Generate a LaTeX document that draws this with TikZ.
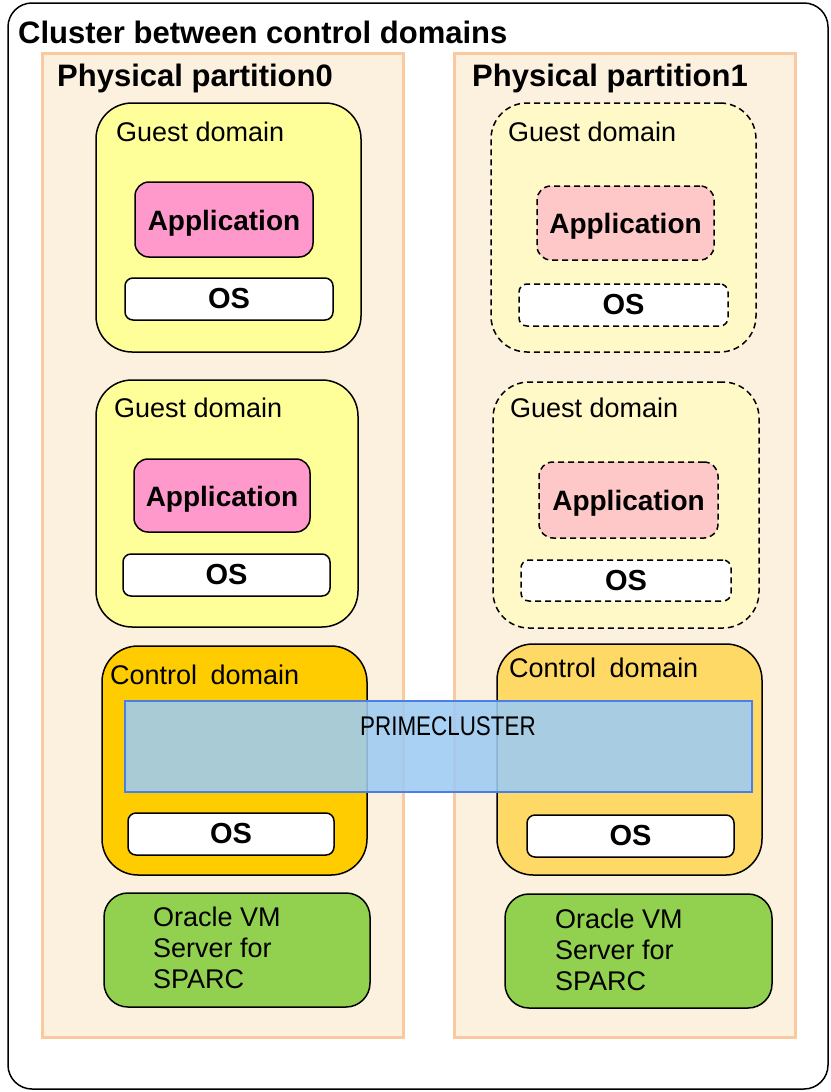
\documentclass[tikz,border=0pt]{standalone}
\usepackage{fontspec}
\setmainfont{Liberation Sans}
\newfontfamily\narrowfont[FakeStretch=0.83]{Liberation Sans}
\usetikzlibrary{fit}
\definecolor{partfill}{HTML}{FCF1DE}
\definecolor{partedge}{HTML}{FBC9A0}
\definecolor{guestA}{HTML}{FFFF99}
\definecolor{guestB}{HTML}{FFF9C8}
\definecolor{appA}{HTML}{FF99CC}
\definecolor{appB}{HTML}{FFC8C8}
\definecolor{ctrlA}{HTML}{FFCC00}
\definecolor{ctrlB}{HTML}{FFD966}
\definecolor{vmgreen}{HTML}{92D050}
\definecolor{pcfill}{RGB}{157,203,243}
\definecolor{pcedge}{HTML}{4A7FE6}
\newcommand{\fs}[1]{\fontsize{#1}{#1}\selectfont}
\tikzset{
  region/.style={inner sep=0pt, outer sep=0pt},
  part/.style={region, draw=partedge, fill=partfill, line width=3pt},
  guest/.style={region, draw=black, line width=1.5pt, rounded corners=36pt},
  app/.style={region, draw=black, line width=1.5pt, rounded corners=14pt},
  osbox/.style={region, draw=black, fill=white, line width=1.5pt, rounded corners=8pt},
  ghost/.style={dash pattern=on 6pt off 4pt},
  vmbox/.style={region, draw=black, fill=vmgreen, line width=1.5pt, rounded corners=24pt},
  lbl/.style={inner sep=0pt, anchor=base west},
  apptext/.style={inner sep=0pt, anchor=base, font=\fs{28}\bfseries},
  ostext/.style={inner sep=0pt, font=\fs{29}\bfseries},
  domtext/.style={lbl, font=\fs{27}},
  vmtext/.style={lbl, font=\fs{27}}
}
\begin{document}
\begin{tikzpicture}[x=1pt,y=-1pt]
\useasboundingbox (0,0) rectangle (830,1092);
\fill[white] (0,0) rectangle (830,1092);
% outer cluster box
\node[region, draw=black, line width=1.5pt, rounded corners=24pt, fit={(8,3) (828,1089)}] (outer) {};
\node[lbl, font=\fs{31}\bfseries] (title) at (18,43) {Cluster between control domains};
% partitions
\node[part, fit={(42,53) (403,1037)}] (p0) {};
\node[part, fit={(454,53) (795,1037)}] (p1) {};
\node[lbl, font=\fs{31}\bfseries] (p0t) at (57,86) {Physical partition0};
\node[lbl, font=\fs{31}\bfseries] (p1t) at (472,86) {Physical partition1};
% partition 0 guest domains
\node[guest, fill=guestA, fit={(96,103) (361,352)}] (g00) {};
\node[domtext] (g00t) at (116,141) {Guest domain};
\node[app, fill=appA, fit={(135,182) (313,257)}] (a00) {};
\node[apptext] at ([yshift=-11pt]a00.center) {Application};
\node[osbox, fit={(125,278) (333,320)}] (o00) {};
\node[ostext] at (o00.center) {OS};

\node[guest, fill=guestA, fit={(96,380) (358,627)}] (g01) {};
\node[domtext] (g01t) at (114,417) {Guest domain};
\node[app, fill=appA, fit={(134,459) (310,532)}] (a01) {};
\node[apptext] at ([yshift=-11pt]a01.center) {Application};
\node[osbox, fit={(123,554) (330,596)}] (o01) {};
\node[ostext] at (o01.center) {OS};
% partition 1 guest domains (dashed)
\node[guest, ghost, fill=guestB, fit={(491,103) (756,352)}] (g10) {};
\node[domtext] (g10t) at (508,141) {Guest domain};
\node[app, ghost, fill=appB, fit={(537,186) (714,260)}] (a10) {};
\node[apptext] at ([yshift=-10.5pt]a10.center) {Application};
\node[osbox, ghost, fit={(519,284) (728,326)}] (o10) {};
\node[ostext] at (o10.center) {OS};

\node[guest, ghost, fill=guestB, fit={(493,382) (759,628)}] (g11) {};
\node[domtext] (g11t) at (510,417) {Guest domain};
\node[app, ghost, fill=appB, fit={(539,462) (718,538)}] (a11) {};
\node[apptext] at ([yshift=-10.5pt]a11.center) {Application};
\node[osbox, ghost, fit={(521,560) (731,601)}] (o11) {};
\node[ostext] at (o11.center) {OS};
% control domains
\node[guest, fill=ctrlA, fit={(102,646) (367,875)}] (c0) {};
\node[domtext] (c0t) at (110,684) {Control\hspace{6pt} domain};
\node[osbox, fit={(128,813) (334,855)}] (co0) {};
\node[ostext] at (co0.center) {OS};

\node[guest, fill=ctrlB, fit={(497,644) (762,875)}] (c1) {};
\node[domtext] (c1t) at (509,677) {Control\hspace{6pt} domain};
\node[osbox, fit={(527,815) (734,857)}] (co1) {};
\node[ostext] at (co1.center) {OS};
% Oracle VM
\node[vmbox, fit={(104,893) (370,1007)}] (vm0) {};
\node[vmtext] (vm0a) at (153,926) {Oracle VM};
\node[vmtext] (vm0b) at (153,957) {Server for};
\node[vmtext] (vm0c) at (153,988) {SPARC};
\node[vmbox, fit={(505,894) (772,1008)}] (vm1) {};
\node[vmtext] (vm1a) at (555,928) {Oracle VM};
\node[vmtext] (vm1b) at (555,959) {Server for};
\node[vmtext] (vm1c) at (555,990) {SPARC};
% PRIMECLUSTER
\node[region, draw=pcedge, line width=1.5pt, fill=pcfill, fill opacity=0.88, fit={(125,701) (752,792)}] (pc) {};
\node[lbl, font=\narrowfont\fs{27}] (pct) at (360,735) {PRIMECLUSTER};
\end{tikzpicture}
\end{document}
